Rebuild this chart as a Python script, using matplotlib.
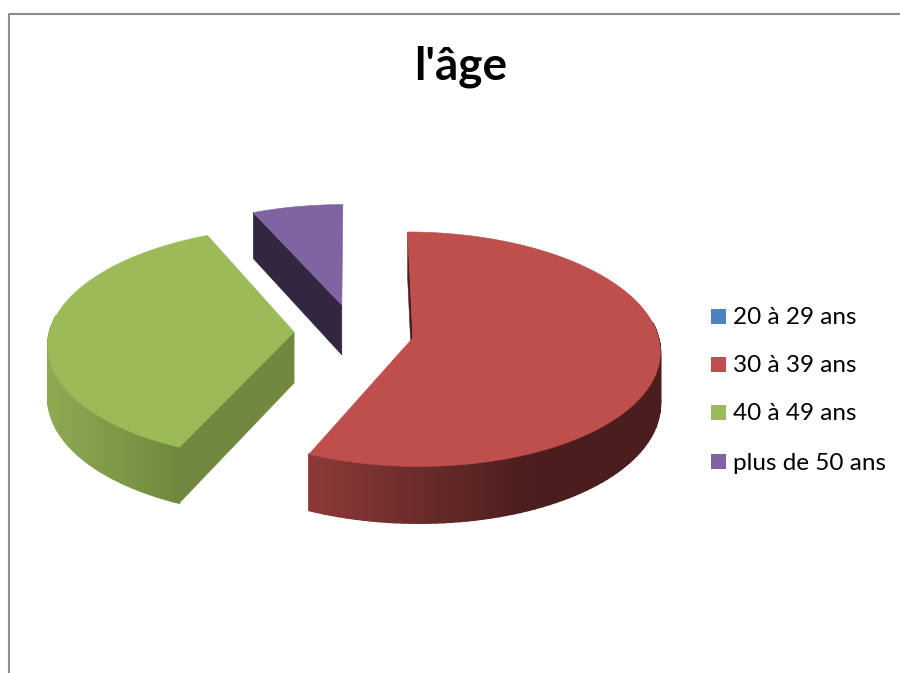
import matplotlib
matplotlib.use('Agg')
import matplotlib.pyplot as plt
from matplotlib.patches import Polygon, Rectangle
import numpy as np

title = "l'âge"
categories = ['20 à 29 ans', '30 à 39 ans', '40 à 49 ans', 'plus de 50 ans']
values = [0, 17, 11, 2]

top_colors = ['#4F81BD', '#BE4F4C', '#9BBB59', '#8064A2']
cut_colors = ['#2F4D71', '#4B1E1D', '#70893F', '#332640']
# rim colour at the left end and right end of the gradient
rim_left = ['#4F81BD', '#8C3A38', '#8DAB52', '#332640']
rim_right = ['#2F4D71', '#4B1E1D', '#70893F', '#332640']
rim_x = [(0, 1), (312, 530), (47, 178), (0, 1)]

# pie geometry in pixels
cx, cy = 354, 332
radius = 244.5
squash = 115
persp = 0.096
depth = 51
explode = 0.245


def project(u, v):
    p = 1 + persp * v
    return cx + radius * u / p, cy - squash * v / p


def thickness(v):
    return depth / (1 + persp * v)


def hex_mix(c1, c2, t):
    a = np.array(matplotlib.colors.to_rgb(c1))
    b = np.array(matplotlib.colors.to_rgb(c2))
    return tuple(a + (b - a) * t)


fig = plt.figure(figsize=(9, 6.73), dpi=100)
ax = fig.add_axes([0, 0, 1, 1])
ax.set_xlim(0, 900)
ax.set_ylim(673, 0)
ax.axis('off')

# chart frame, cut by the right and bottom of the picture
ax.plot([8.5, 8.5, 900], [673, 13.5, 13.5], color='#8E8E8E', lw=1.5)

total = sum(values)
start = 0
for i, val in enumerate(values):
    if val == 0:
        continue
    sweep = 2 * np.pi * val / total
    mid = start + sweep / 2
    ou = explode * np.sin(mid)
    ov = explode * np.cos(mid)
    ang = np.linspace(start, start + sweep, 120)
    us = ou + np.sin(ang)
    vs = ov + np.cos(ang)
    xs, ys = project(us, vs)
    d = thickness(vs)

    # outer rim, one thin piece per step for the gradient
    for k in range(len(ang) - 1):
        if ang[k] < np.radians(82) or ang[k] > np.radians(278):
            continue
        t = np.clip((xs[k] - rim_x[i][0]) / (rim_x[i][1] - rim_x[i][0]), 0, 1)
        col = hex_mix(rim_left[i], rim_right[i], t)
        pts = [(xs[k], ys[k]), (xs[k + 1], ys[k + 1]),
               (xs[k + 1], ys[k + 1] + d[k + 1]), (xs[k], ys[k] + d[k])]
        ax.add_patch(Polygon(pts, closed=True, fc=col, ec=col, lw=1.2))

    # only the cut face at the start of a slice looks towards the viewer
    ax_, ay_ = project(ou, ov)
    ad = thickness(ov)
    pts = [(ax_, ay_), (xs[0], ys[0]), (xs[0], ys[0] + d[0]), (ax_, ay_ + ad)]
    ax.add_patch(Polygon(pts, closed=True, fc=cut_colors[i], ec=cut_colors[i], lw=0.4))

    # top of the slice
    pts = [(ax_, ay_)] + list(zip(xs, ys))
    ax.add_patch(Polygon(pts, closed=True, fc=top_colors[i], ec=top_colors[i], lw=0.4))
    start += sweep

ax.text(461, 79, title, family='Lato', fontweight='bold', fontsize=33,
        ha='center', va='baseline', color='black')

# legend
legend_y = [316.5, 364.5, 412.5, 461.5]
for name, col, y in zip(categories, top_colors, legend_y):
    ax.add_patch(Rectangle((711, y - 7.5), 15, 15, fc=col, ec='none'))
    ax.text(733, y + 8, name, family='Lato', fontsize=17.5, ha='left',
            va='baseline', color='black')

fig.savefig('out.png', dpi=100)
